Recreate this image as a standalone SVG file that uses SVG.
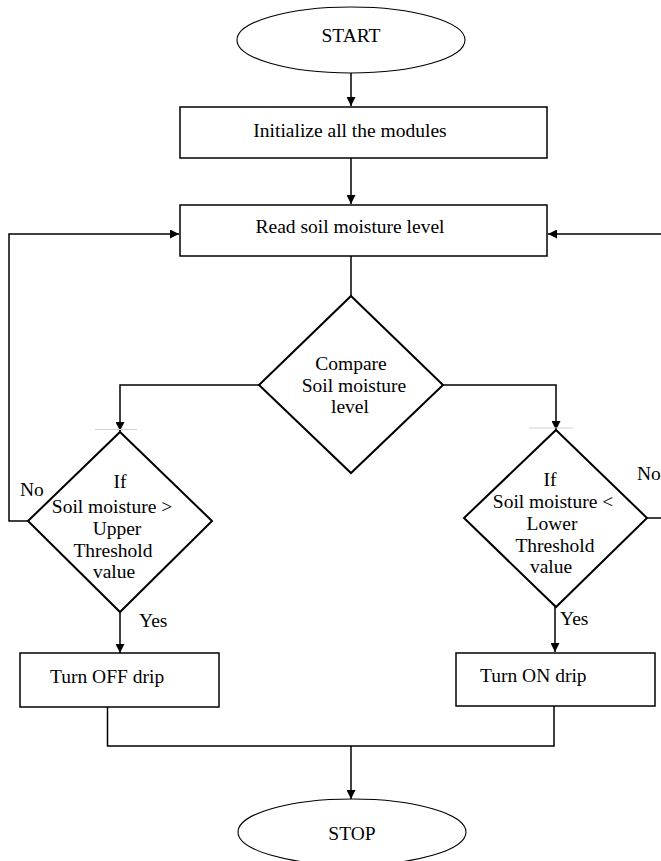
<svg xmlns="http://www.w3.org/2000/svg" width="661" height="861" viewBox="0 0 661 861">
<style>
  .t { font-family: "Liberation Serif", "Times New Roman", serif; font-size: 19.5px; fill: #000; }
  .c { text-anchor: middle; }
  .box { fill: #fff; stroke: #000; stroke-width: 1.5; }
  .term { fill: #fff; stroke: #000; stroke-width: 1.1; }
  .dia { fill: #fff; stroke: #000; stroke-width: 2; }
  .ln { fill: none; stroke: #000; stroke-width: 1.5; }
  .faint { stroke: #d0d0d0; stroke-width: 1; }
</style>
<defs>
  <marker id="arr" viewBox="0 0 10 10" refX="10" refY="5" markerWidth="9" markerHeight="9" markerUnits="userSpaceOnUse" orient="auto">
    <path d="M0,0 L10,5 L0,10 z" fill="#000"/>
  </marker>
</defs>
<rect width="661" height="861" fill="#fff"/>

<g id="connectors">
  <line class="ln" x1="351" y1="73" x2="351" y2="106" marker-end="url(#arr)"/>
  <line class="ln" x1="351" y1="158" x2="351" y2="204" marker-end="url(#arr)"/>
  <line class="ln" x1="351" y1="256" x2="351" y2="296"/>
  <polyline class="ln" points="259,385 120,385 120,431" marker-end="url(#arr)"/>
  <polyline class="ln" points="443,385 556,385 556,430" marker-end="url(#arr)"/>
  <polyline class="ln" points="28,521 9,521 9,234 179,234" marker-end="url(#arr)"/>
  <line class="ln" x1="661" y1="234" x2="548" y2="234" marker-end="url(#arr)"/>
  <line class="ln" x1="647" y1="518" x2="661" y2="518"/>
  <line class="ln" x1="120" y1="612" x2="120" y2="653" marker-end="url(#arr)"/>
  <line class="ln" x1="555" y1="607" x2="555" y2="652" marker-end="url(#arr)"/>
  <polyline class="ln" points="107.5,707 107.5,746 554,746 554,706"/>
  <line class="ln" x1="351" y1="746" x2="351" y2="799" marker-end="url(#arr)"/>
  <line class="faint" x1="95" y1="429.5" x2="137" y2="429.5"/>
  <line class="faint" x1="529" y1="428" x2="573" y2="428"/>
</g>

<g id="start">
  <ellipse class="term" cx="351" cy="40" rx="114" ry="33"/>
  <text class="t c" x="351" y="42">START</text>
</g>

<g id="init">
  <rect class="box" x="180" y="107" width="367" height="51"/>
  <text class="t c" x="350" y="137">Initialize all the modules</text>
</g>

<g id="read">
  <rect class="box" x="180" y="205" width="367" height="51"/>
  <text class="t c" x="350" y="233">Read soil moisture level</text>
</g>

<g id="compare">
  <polygon class="dia" points="351,296 443,385 351,473 259,385"/>
  <text class="t c" x="351" y="370">Compare</text>
  <text class="t c" x="354" y="392">Soil moisture</text>
  <text class="t c" x="350" y="413">level</text>
</g>

<g id="upper">
  <polygon class="dia" points="120,432 212,521 120,612 28,521"/>
  <text class="t c" x="120" y="488">If</text>
  <text class="t c" x="112" y="513">Soil moisture &gt;</text>
  <text class="t c" x="117" y="535">Upper</text>
  <text class="t c" x="113" y="557">Threshold</text>
  <text class="t c" x="114" y="578">value</text>
</g>

<g id="lower">
  <polygon class="dia" points="556,430 647,518 556,607 464,518"/>
  <text class="t c" x="550" y="486">If</text>
  <text class="t c" x="553" y="508">Soil moisture &lt;</text>
  <text class="t c" x="552" y="530">Lower</text>
  <text class="t c" x="555" y="552">Threshold</text>
  <text class="t c" x="551" y="573">value</text>
</g>

<g id="labels">
  <text class="t" x="20" y="496">No</text>
  <text class="t" x="637" y="480">No</text>
  <text class="t" x="139" y="627">Yes</text>
  <text class="t" x="560" y="625">Yes</text>
</g>

<g id="off">
  <rect class="box" x="20" y="653" width="199" height="54"/>
  <text class="t" x="50" y="683">Turn OFF drip</text>
</g>

<g id="on">
  <rect class="box" x="456" y="653" width="199" height="53"/>
  <text class="t" x="480" y="682">Turn ON drip</text>
</g>

<g id="stop">
  <ellipse class="term" cx="352" cy="832" rx="114" ry="33"/>
  <text class="t c" x="352" y="840">STOP</text>
</g>
</svg>
